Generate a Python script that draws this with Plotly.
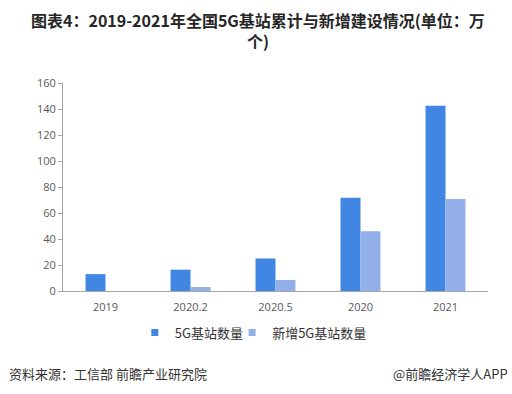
import plotly.graph_objects as go

categories = ["2019", "2020.2", "2020.5", "2020", "2021"]
total_5g = [13, 16.4, 25, 71.8, 142.5]
new_5g = [0, 3.1, 8.5, 46, 70.8]
y_ticks = [0, 20, 40, 60, 80, 100, 120, 140, 160]
series_names = ["5G基站数量", "新增5G基站数量"]
series_colors = ["#4286E3", "#93AFE9"]
legend_ids = ["legend", "legend2"]

FONT = "Noto Sans CJK SC"

fig = go.Figure()
for name, vals, col, lg in zip(series_names, [total_5g, new_5g], series_colors, legend_ids):
    fig.add_trace(go.Bar(name=name, x=categories, y=vals, showlegend=False,
                         marker=dict(color=col, line=dict(width=0))))
    # legend-only entries with small square symbols
    fig.add_trace(go.Scatter(name=name, x=[None], y=[None], mode="markers", legend=lg,
                             marker=dict(symbol="square", size=7, color=col), showlegend=True))

leg_common = dict(orientation="h", xanchor="left", y=-0.2, yanchor="middle",
                  font=dict(size=13, color="#333333"), itemwidth=30, bgcolor="rgba(0,0,0,0)")

fig.update_layout(
    width=512, height=394,
    margin=dict(l=63, r=24, t=83, b=103),
    paper_bgcolor="white", plot_bgcolor="white",
    barmode="group", bargap=0.53, bargroupgap=0,
    font=dict(family=FONT, size=12, color="#595959"),
    showlegend=True,
    legend=dict(x=0.169, **leg_common),
    legend2=dict(x=0.398, **leg_common),
    xaxis=dict(showline=True, linecolor="#A6A6A6", linewidth=1, ticks="", ticklabelstandoff=6,
               tickfont=dict(size=11, color="#595959", family="Open Sans"), showgrid=False),
    yaxis=dict(range=[0, 160], tickvals=y_ticks, showline=True, linecolor="#A6A6A6", linewidth=1,
               ticks="outside", ticklen=4, tickcolor="#A6A6A6", showgrid=False, zeroline=False,
               tickfont=dict(size=11, color="#595959", family="Open Sans")),
)

fig.add_annotation(text="<b>图表4：2019-2021年全国5G基站累计与新增建设情况(单位：万<br>个)</b>",
                   xref="paper", yref="paper", x=0.5, xshift=-18, y=1, yshift=53,
                   xanchor="center", yanchor="middle",
                   showarrow=False, font=dict(size=16, color="#262626", family=FONT), align="center")
fig.add_annotation(text="资料来源：工信部 前瞻产业研究院", xref="paper", yref="paper",
                   x=0, xshift=-56, y=0, yshift=-82, xanchor="left", yanchor="middle",
                   showarrow=False, font=dict(size=13, color="#333333", family=FONT))
fig.add_annotation(text="@前瞻经济学人APP", xref="paper", yref="paper",
                   x=1, xshift=22, y=0, yshift=-82, xanchor="right", yanchor="middle",
                   showarrow=False, font=dict(size=13, color="#333333", family=FONT))

fig.write_html("out.html", post_script="document.body.style.margin='0';",
               config={"displayModeBar": False})
